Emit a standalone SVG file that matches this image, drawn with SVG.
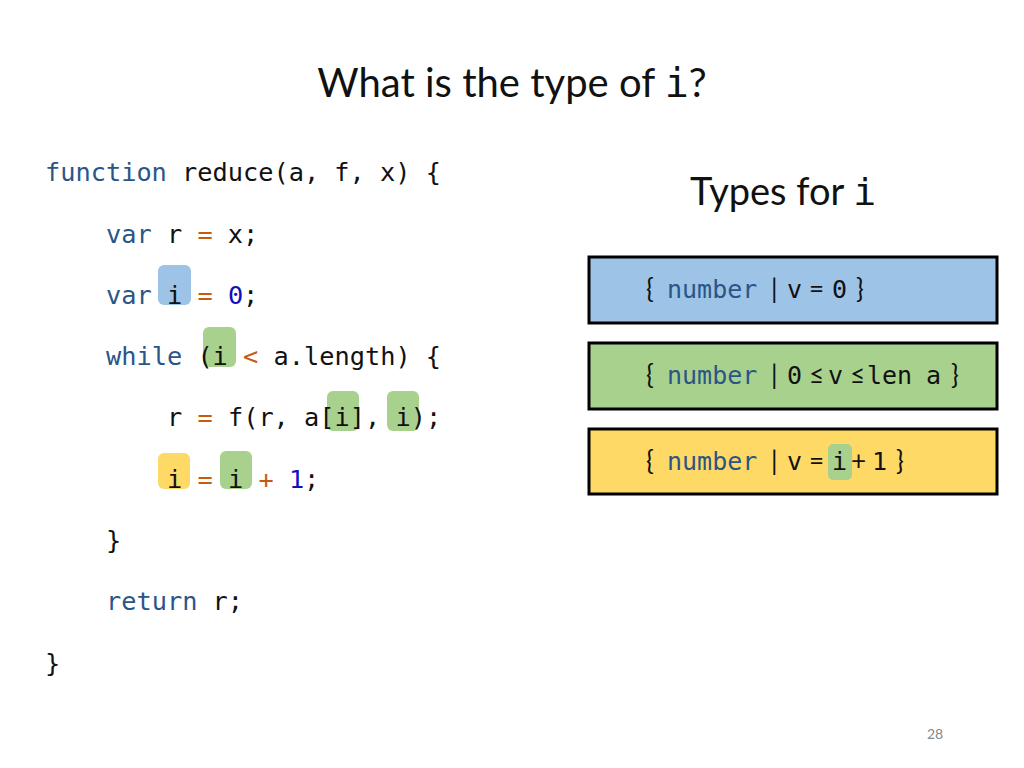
<svg xmlns="http://www.w3.org/2000/svg" width="1024" height="768" viewBox="0 0 1024 768">
<style>
.c{font-family:"DejaVu Sans Mono",monospace;font-size:25.3px;fill:#111}
.k{fill:#2a5587}.o{fill:#c55a11}.n{fill:#1010c0}
.s{font-family:Lato,"Open Sans",sans-serif;fill:#111}
.m{font-family:"DejaVu Sans Mono",monospace}
.box{stroke:#000;stroke-width:3}
.t{font-size:26px}
.tm{font-family:"DejaVu Sans Mono",monospace;font-size:25px}
</style>
<rect width="1024" height="768" fill="#fff"/>
<text class="s" x="512" y="97" font-size="40" text-anchor="middle">What is the type of <tspan class="m">i</tspan>?</text>
<g id="highlights">
<rect x="158" y="265" width="33" height="40" rx="6" fill="#9dc3e6"/>
<rect x="203" y="327" width="33" height="40" rx="6" fill="#a9d18e"/>
<rect x="327" y="391" width="32" height="40" rx="6" fill="#a9d18e"/>
<rect x="387" y="391" width="32" height="40" rx="6" fill="#a9d18e"/>
<rect x="158" y="453" width="32" height="36" rx="6" fill="#ffd966"/>
<rect x="220" y="451" width="32" height="38" rx="6" fill="#a9d18e"/>
</g>
<g id="code" class="c" xml:space="preserve">
<text x="45" y="181"><tspan class="k">function</tspan> reduce(a, f, x) {</text>
<text x="106" y="243"><tspan class="k">var</tspan> r <tspan class="o">=</tspan> x;</text>
<text x="106" y="304"><tspan class="k">var</tspan> i <tspan class="o">=</tspan> <tspan class="n">0</tspan>;</text>
<text x="106" y="365"><tspan class="k">while</tspan> (i <tspan class="o">&lt;</tspan> a.length) {</text>
<text x="167" y="426">r <tspan class="o">=</tspan> f(r, a[i], i);</text>
<text x="167" y="488">i <tspan class="o">=</tspan> i <tspan class="o">+</tspan> <tspan class="n">1</tspan>;</text>
<text x="106" y="549">}</text>
<text x="106" y="610"><tspan class="k">return</tspan> r;</text>
<text x="45" y="672">}</text>
</g>
<text class="s" x="690" y="205" font-size="38">Types for <tspan class="m">i</tspan></text>
<g id="type1">
<rect class="box" x="589" y="257" width="408" height="66" fill="#9dc3e6"/>
<text class="s t" y="298"><tspan x="646">{</tspan><tspan class="tm" x="667" fill="#2a5587">number</tspan><tspan x="771">|</tspan><tspan class="tm" x="787">v</tspan><tspan x="809">=</tspan><tspan class="tm" x="832">0</tspan><tspan x="856">}</tspan></text>
</g>
<g id="type2">
<rect class="box" x="589" y="343" width="408" height="66" fill="#a9d18e"/>
<text class="s t" y="384"><tspan x="646">{</tspan><tspan class="tm" x="667" fill="#2a5587">number</tspan><tspan x="771">|</tspan><tspan class="tm" x="787">0</tspan><tspan x="809">≤</tspan><tspan class="tm" x="828">v</tspan><tspan x="850">≤</tspan><tspan class="tm" x="867">len</tspan><tspan class="tm" x="926">a</tspan><tspan x="951">}</tspan></text>
</g>
<g id="type3">
<rect class="box" x="589" y="429" width="408" height="65" fill="#ffd966"/>
<rect x="828" y="444" width="24" height="36" rx="5" fill="#a9d18e"/>
<text class="s t" y="470"><tspan x="646">{</tspan><tspan class="tm" x="667" fill="#2a5587">number</tspan><tspan x="771">|</tspan><tspan class="tm" x="787">v</tspan><tspan x="809">=</tspan><tspan class="tm" x="832">i</tspan><tspan x="851">+</tspan><tspan class="tm" x="872">1</tspan><tspan x="896">}</tspan></text>
</g>
<text x="935" y="739" font-family="Lato,sans-serif" font-size="14" fill="#888" text-anchor="middle">28</text>
</svg>
